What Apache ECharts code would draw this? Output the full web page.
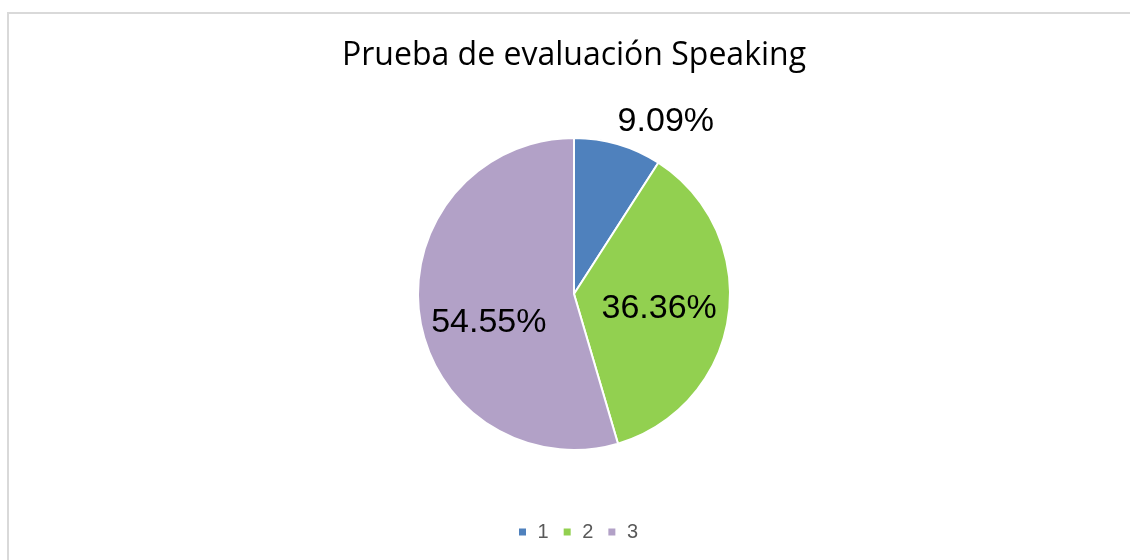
<!DOCTYPE html>
<html>
<head>
<meta charset="utf-8">
<script src="https://cdn.jsdelivr.net/npm/echarts@6/dist/echarts.min.js"></script>
<style>
html, body { margin: 0; padding: 0; overflow: hidden; background: #fff; }
#frame { position: absolute; left: 7px; top: 12px; width: 1200px; height: 600px; border: 2px solid #d9d9d9; }
#main { position: absolute; left: 0; top: 0; width: 1148px; height: 560px; }
</style>
</head>
<body>
<div id="frame"></div>
<div id="main"></div>
<script>
// datos del gráfico
var categorias = ['1', '2', '3'];
var valores = [9.09, 36.36, 54.55];
var colores = ['#4F81BD', '#92D050', '#B2A1C7'];
// desplazamiento de cada etiqueta respecto a su posición interior
var desplazamientos = [[69, -95], [5, 3], [-5, 17]];

var myChart = echarts.init(document.getElementById('main'));

var datos = categorias.map(function (c, i) {
	return {
		name: c,
		value: valores[i],
		itemStyle: { color: colores[i] },
		label: { offset: desplazamientos[i] }
	};
});

var option = {
	animation: false,
	title: {
		text: 'Prueba de evaluación Speaking',
		left: 'center',
		top: 35,
		textStyle: {
			fontFamily: 'Open Sans',
			fontSize: 32,
			fontWeight: 'normal',
			color: '#000'
		}
	},
	legend: {
		data: categorias,
		bottom: 13,
		left: 512,
		icon: 'rect',
		itemWidth: 9,
		itemHeight: 9,
		itemGap: 13,
		formatter: function (n) { return ' ' + n; },
		textStyle: {
			fontFamily: 'Liberation Sans',
			fontSize: 20,
			color: '#595959'
		}
	},
	series: [{
		type: 'pie',
		radius: 156,
		center: [574, 294],
		startAngle: 90,
		clockwise: true,
		data: datos,
		itemStyle: {
			borderColor: '#fff',
			borderWidth: 2
		},
		label: {
			show: true,
			position: 'inside',
			formatter: function (p) { return p.value.toFixed(2) + '%'; },
			fontFamily: 'Liberation Sans',
			fontSize: 34,
			color: '#000'
		},
		labelLine: { show: false },
		emphasis: { disabled: true }
	}]
};

myChart.setOption(option);
</script>
</body>
</html>
